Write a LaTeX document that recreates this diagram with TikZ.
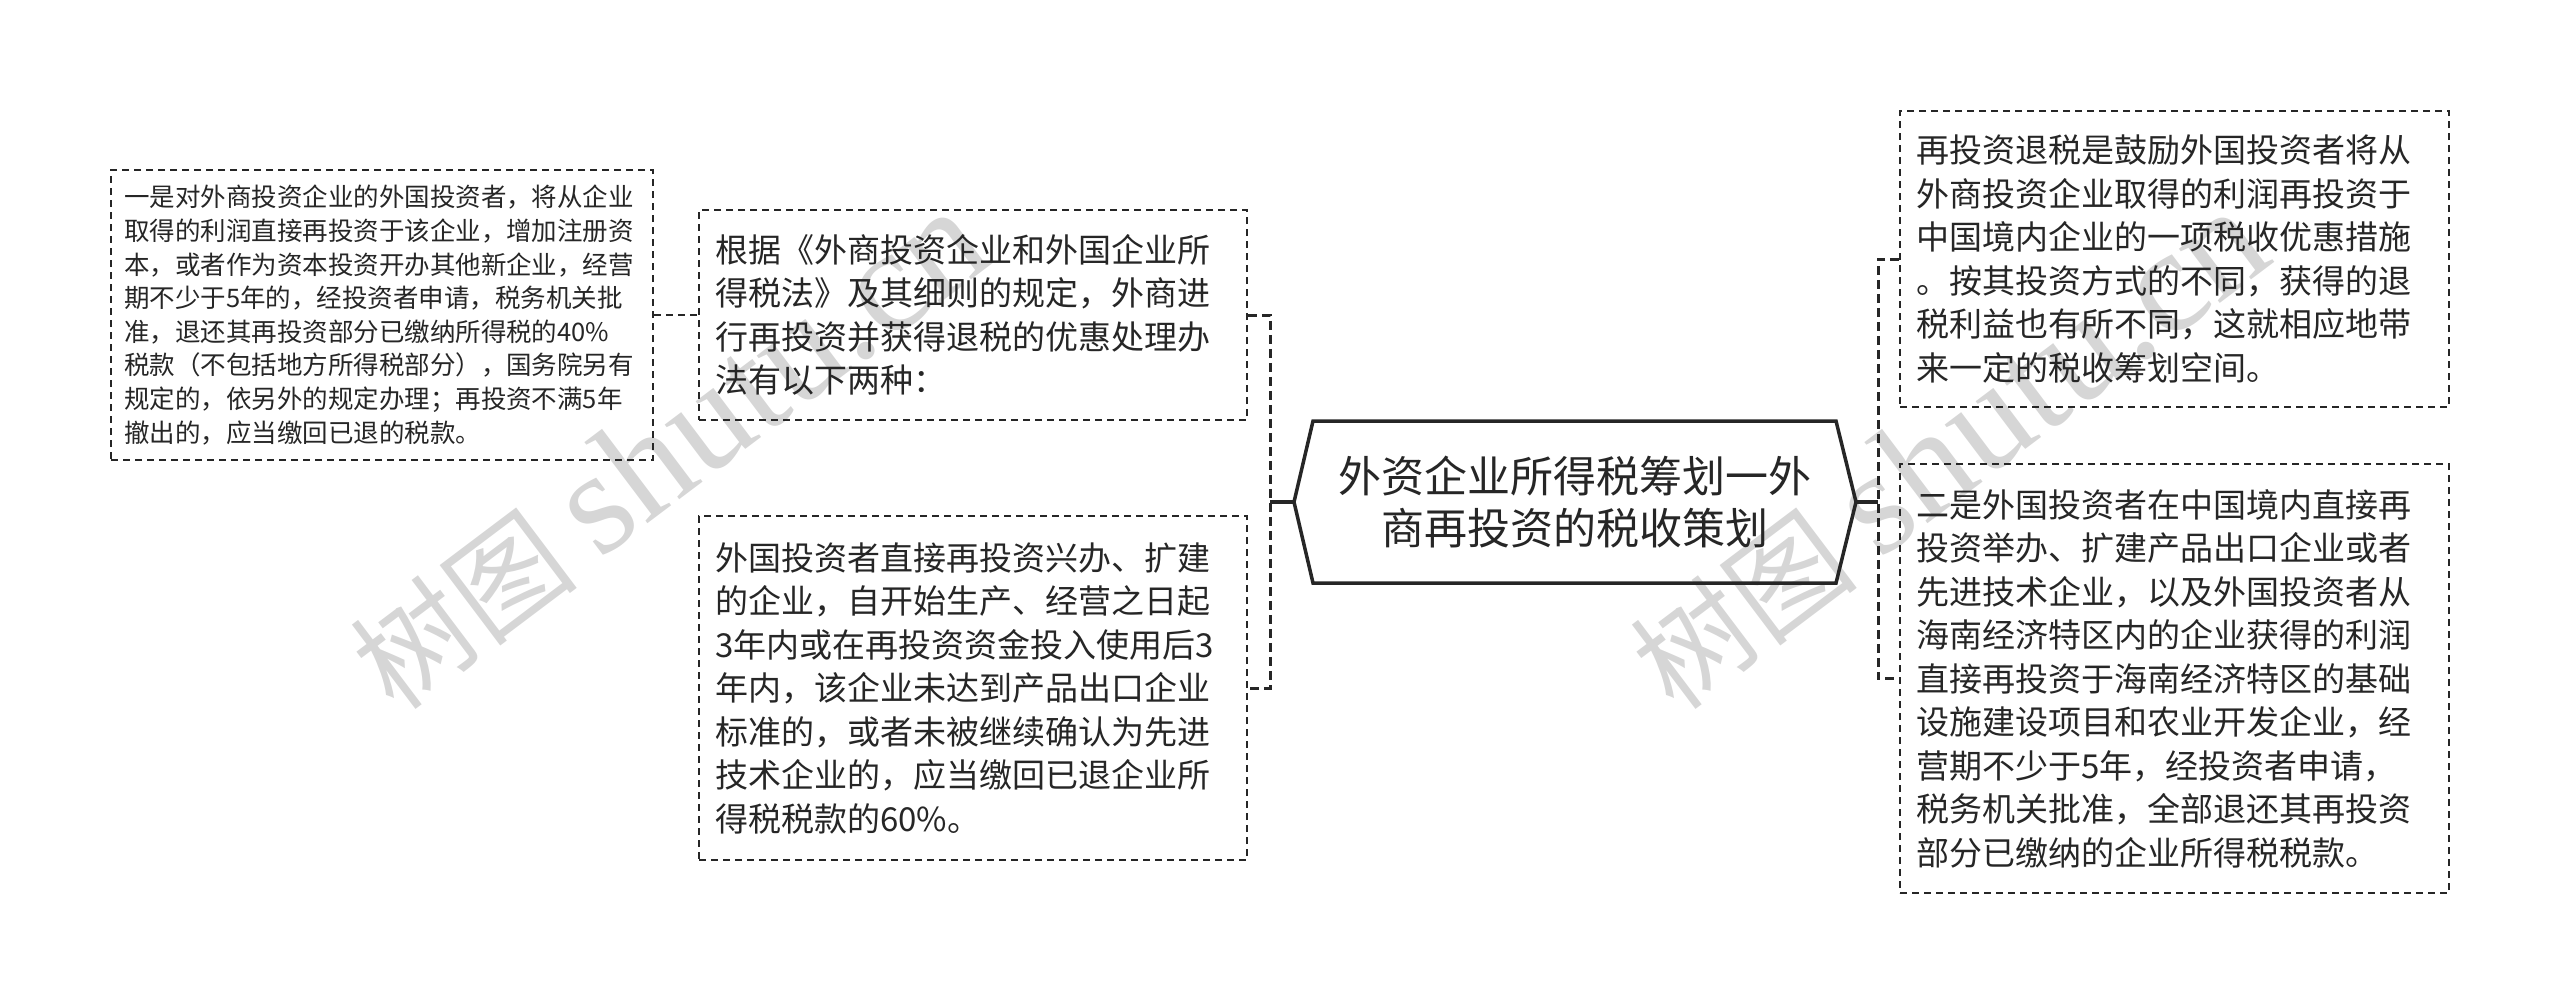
\documentclass[tikz,border=0pt]{standalone}
\usepackage{fontspec}
\setmainfont{Noto Sans CJK SC}
\newfontfamily\wmserif{Liberation Serif}
\definecolor{txt}{HTML}{262626}
\definecolor{wm}{HTML}{D6D6D6}
\begin{document}
\begin{tikzpicture}[x=1pt,y=-1pt,
  box/.style={draw=txt, line width=1.8pt, dash pattern=on 7pt off 5pt, text=txt, align=left, inner xsep=16pt, inner ysep=0pt, anchor=center},
  big/.style={box, font=\fontsize{33}{43.5}\selectfont, text width=516pt},
  small/.style={box, font=\fontsize{25.5}{33.6}\selectfont, inner xsep=13pt, text width=516pt},
  thickdash/.style={draw=txt, line width=3pt, dash pattern=on 9pt off 5pt},
  thinlink/.style={draw=txt, line width=1.8pt, dash pattern=on 7pt off 5pt},
  rootline/.style={draw=txt, line width=3.5pt, line join=miter},
  wmark/.style={text=wm, font=\fontsize{115}{115}\selectfont, rotate=37}
]
\useasboundingbox (0,0) rectangle (2560,1004);

% watermarks (behind everything)
\node[wmark] (wm1) at (668,450) {树图 {\wmserif\fontsize{148}{148}\selectfont shutu.cn}};
\node[wmark] (wm2) at (1948,450) {树图 {\wmserif\fontsize{148}{148}\selectfont shutu.cn}};

% boxes
\node[small, minimum height=290pt] (b1) at (382,315) {一是对外商投资企业的外国投资者，将从企业\\取得的利润直接再投资于该企业，增加注册资\\本，或者作为资本投资开办其他新企业，经营\\期不少于5年的，经投资者申请，税务机关批\\准，退还其再投资部分已缴纳所得税的40\%\\税款（不包括地方所得税部分），国务院另有\\规定的，依另外的规定办理；再投资不满5年\\撤出的，应当缴回已退的税款。};

\node[big, minimum height=210pt] (b2) at (973,315) {根据《外商投资企业和外国企业所\\得税法》及其细则的规定，外商进\\行再投资并获得退税的优惠处理办\\法有以下两种：};

\node[big, minimum height=344pt] (b3) at (973,688) {外国投资者直接再投资兴办、扩建\\的企业，自开始生产、经营之日起\\3年内或在再投资资金投入使用后3\\年内，该企业未达到产品出口企业\\标准的，或者未被继续确认为先进\\技术企业的，应当缴回已退企业所\\得税税款的60\%。};

\node[big, minimum height=296pt, text width=517pt] (b4) at (2174.5,259) {再投资退税是鼓励外国投资者将从\\外商投资企业取得的利润再投资于\\中国境内企业的一项税收优惠措施\\。按其投资方式的不同，获得的退\\税利益也有所不同，这就相应地带\\来一定的税收筹划空间。};

\node[big, minimum height=429pt, text width=517pt] (b5) at (2174.5,678.5) {二是外国投资者在中国境内直接再\\投资举办、扩建产品出口企业或者\\先进技术企业，以及外国投资者从\\海南经济特区内的企业获得的利润\\直接再投资于海南经济特区的基础\\设施建设项目和农业开发企业，经\\营期不少于5年，经投资者申请，\\税务机关批准，全部退还其再投资\\部分已缴纳的企业所得税税款。};

% root
\draw[rootline] (1294,502) -- (1313,421) -- (1836,421) -- (1856,502) -- (1836,583) -- (1313,583) -- cycle;
\node[text=txt, align=center, font=\fontsize{43}{52}\selectfont] (root) at (1575,502) {外资企业所得税筹划一外\\商再投资的税收策划};
\coordinate (rootW) at (1294,502);
\coordinate (rootE) at (1856,502);
\coordinate (jl) at (1270,502);
\coordinate (jr) at (1878,502);

% connectors
\draw[rootline] (rootW) -- (jl);
\draw[thickdash] (b2.east) -| (jl) |- (b3.east);
\draw[rootline] (rootE) -- (jr);
\draw[thickdash] (b4.west) -| (jr) |- (b5.west);
\draw[thinlink] (b1.east) -- (b2.west);
\end{tikzpicture}
\end{document}
